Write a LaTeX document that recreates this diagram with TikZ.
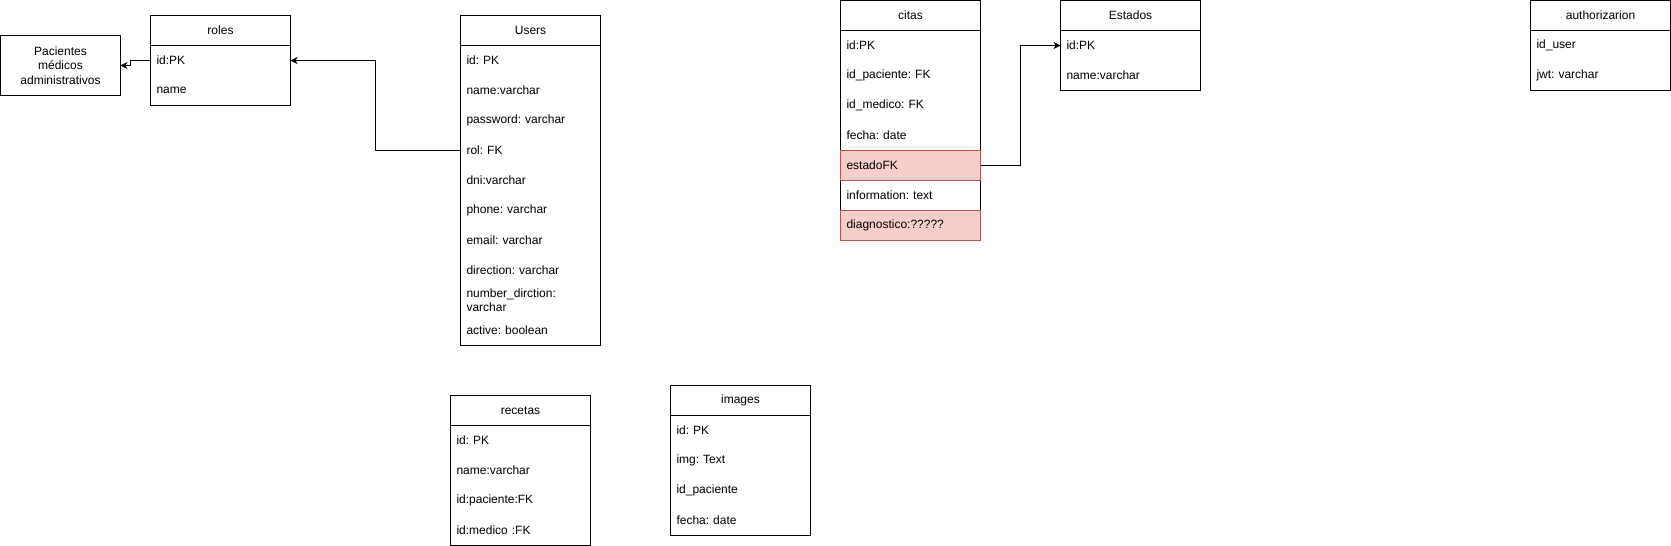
\documentclass[tikz,border=0pt]{standalone}
\usepackage{fontspec}
\setmainfont{Liberation Sans}
\frenchspacing
\usetikzlibrary{arrows.meta}
\definecolor{rowfill}{HTML}{F8CECC}
\definecolor{rowline}{HTML}{B85450}
\begin{document}
\begin{tikzpicture}[x=1pt,y=-1pt,line width=1pt,
        font=\fontsize{12pt}{14.4pt}\selectfont,
        tablehead/.style={draw,anchor=north west,minimum width=140pt,minimum height=30pt,inner sep=0pt,outer sep=0pt},
        tablerow/.style={anchor=north west,text width=128pt,inner xsep=6pt,inner ysep=0pt,outer sep=0pt,minimum height=30pt,align=left},
        pinkrow/.style={tablerow,draw=rowline,fill=rowfill},
        link/.style={-{Stealth[length=7pt,width=7pt,inset=2pt]}}]
                \useasboundingbox (-0.5,-0.5) rectangle (1670.5,545.5);
                %% role list
                \node[draw,anchor=north west,minimum width=120pt,minimum height=60pt,inner sep=0pt,outer sep=0pt,align=center] (pacientes) at (0,35) {Pacientes\\médicos\\administrativos};
                %% roles
                \node[tablehead] (roles-head) at (150,15) {roles};
                \draw (roles-head.north west) rectangle ++(140,90);
                \foreach \txt [count=\i] in {id:PK, name}
                    \node[tablerow] (roles-\i) at (150,{15+30*\i}) {\txt};
                %% Users
                \node[tablehead] (users-head) at (460,15) {Users};
                \draw (users-head.north west) rectangle ++(140,330);
                \foreach \txt [count=\i] in {id: PK, name:varchar, password: varchar, rol: FK, dni:varchar, phone: varchar, email: varchar, direction: varchar, number\_dirction:\\varchar, active: boolean}
                    \node[tablerow] (users-\i) at (460,{15+30*\i}) {\txt};
                %% citas
                \node[tablehead] (citas-head) at (840,0) {citas};
                \draw (citas-head.north west) rectangle ++(140,240);
                \foreach \txt/\sty [count=\i] in {id:PK/tablerow, id\_paciente: FK/tablerow, id\_medico: FK/tablerow, fecha: date/tablerow, estadoFK/pinkrow, information: text/tablerow, diagnostico:?????/pinkrow}
                    \node[\sty] (citas-\i) at (840,{30*\i}) {\txt};
                %% Estados
                \node[tablehead] (estados-head) at (1060,0) {Estados};
                \draw (estados-head.north west) rectangle ++(140,90);
                \foreach \txt [count=\i] in {id:PK, name:varchar}
                    \node[tablerow] (estados-\i) at (1060,{30*\i}) {\txt};
                %% authorizarion
                \node[tablehead] (auth-head) at (1530,0) {authorizarion};
                \draw (auth-head.north west) rectangle ++(140,90);
                \foreach \txt [count=\i] in {id\_user, jwt: varchar}
                    \node[tablerow] (auth-\i) at (1530,{30*\i}) {\txt};
                %% recetas
                \node[tablehead] (recetas-head) at (450,395) {recetas};
                \draw (recetas-head.north west) rectangle ++(140,150);
                \foreach \txt [count=\i] in {id: PK, name:varchar, id:paciente:FK, id:medico :FK}
                    \node[tablerow] (recetas-\i) at (450,{395+30*\i}) {\txt};
                %% images
                \node[tablehead] (images-head) at (670,385) {images};
                \draw (images-head.north west) rectangle ++(140,150);
                \foreach \txt [count=\i] in {id: PK, img: Text, id\_paciente, fecha: date}
                    \node[tablerow] (images-\i) at (670,{385+30*\i}) {\txt};
                %% links
                \draw[link] (users-4.west) -- ++(-85,0) |- (roles-1.east);
                \draw[link] (roles-1.west) -- ++(-20,0) |- (pacientes.east);
                \draw[link] (citas-5.east) -- ++(40,0) |- (estados-1.west);
            \end{tikzpicture}
\end{document}
